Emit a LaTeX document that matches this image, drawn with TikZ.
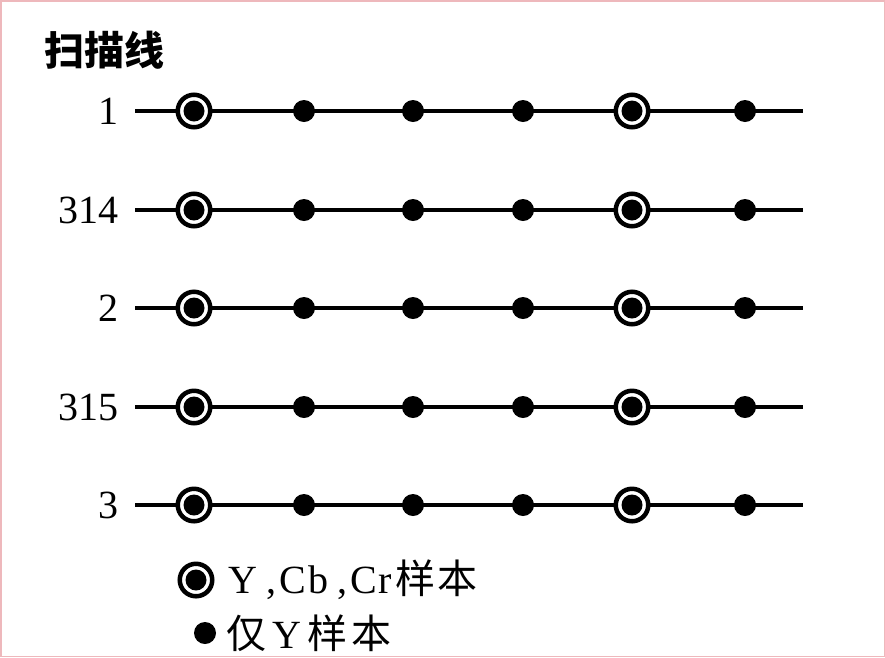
\documentclass[tikz,border=0pt]{standalone}
\usepackage{fontspec}
\setmainfont{Liberation Serif}
\newfontfamily\cjk{Noto Sans CJK SC}
\usetikzlibrary{positioning}
\definecolor{framepink}{RGB}{238,184,188}
\tikzset{
  scanline/.style={line width=3.5pt},
  ycc/.style ={circle, draw, line width=4.5pt, fill=white, minimum size=32.5pt, inner sep=0pt,
               path picture={\fill[black] (path picture bounding box.center) circle (10.5pt);}},
  yonly/.style={circle, fill, minimum size=22pt, inner sep=0pt},
  lbl/.style ={font=\fontsize{40}{44}\selectfont, anchor=east, inner sep=0pt},
  cjktxt/.style={font=\cjk\fontsize{40}{44}\selectfont, anchor=west, inner sep=0pt},
}

\begin{document}
\begin{tikzpicture}[x=1pt, y=-1pt]
  \useasboundingbox (0,0) rectangle (885,657);
  \draw[framepink, line width=1.5pt] (0.75,0.75) rectangle (884.25,656.25);
  \node[cjktxt, font=\cjk\bfseries\fontsize{40}{44}\selectfont] (title) at (44,50) {扫描线};
  % scan lines with samples
  \foreach \yy/\lab [count=\r] in {111/1, 210/314, 308/2, 407/315, 505/3} {
    \node[lbl] (n\r) at (119,\yy) {\lab};
    \coordinate (s\r) at (135,\yy);
    \coordinate (e\r) at (803,\yy);
    \draw[scanline] (s\r) -- (e\r);
    \foreach \xx/\kind [count=\c] in {194/ycc, 304/yonly, 413/yonly, 523/yonly, 632/ycc, 745/yonly}
      \node[\kind] (p\r-\c) at (\xx,\yy) {};
  }
  % legend
  \node[ycc] (k1) at (196,580) {};
  \node[cjktxt, right=14pt of k1] (t1)
    {{\rmfamily Y\hspace{9pt},\hspace{3pt}C\hspace{2pt}b\hspace{9pt},\hspace{3pt}C\hspace{2pt}r}\hspace{3pt}样\hspace{2pt}本};
  \node[yonly] (k2) at (205,633) {};
  \node[cjktxt, right=10pt of k2] (t2) {仅\hspace{6pt}{\rmfamily Y}\hspace{6pt}样\hspace{4pt}本};
\end{tikzpicture}
\end{document}
